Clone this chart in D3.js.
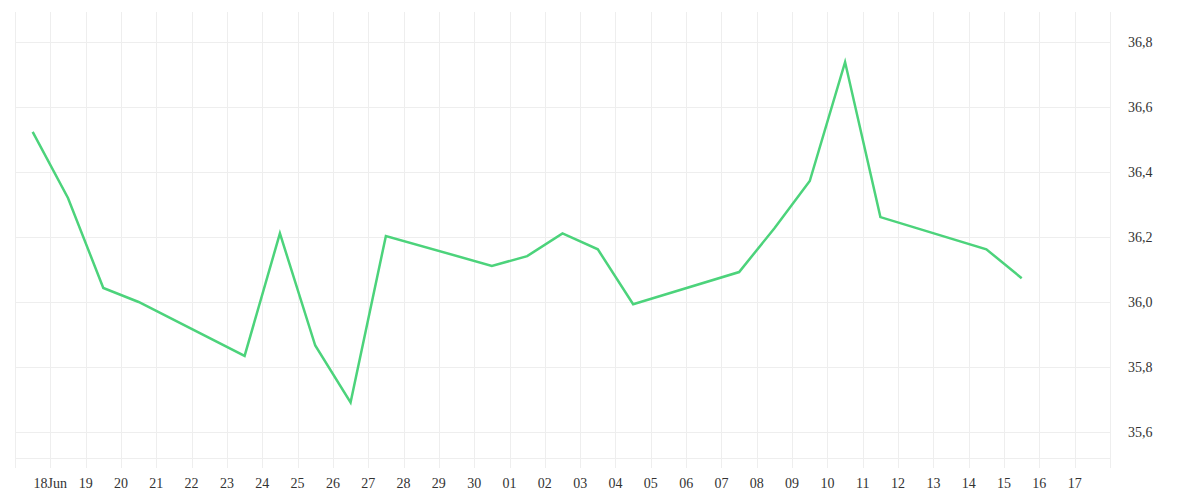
<!DOCTYPE html>
<html>
<head>
<meta charset="utf-8">
<script src="https://cdn.jsdelivr.net/npm/d3@7"></script>
<style>
  html, body { margin: 0; padding: 0; background: #ffffff; }
  svg { display: block; }
  text { font-family: "Liberation Serif", serif; font-size: 14px; fill: #333333; }
</style>
</head>
<body>
<svg id="chart" width="1200" height="500"></svg>
<script>
// ---- data ----
const dates = [
  "2018-06-17T12:00", "2018-06-18T12:00", "2018-06-19T12:00", "2018-06-20T12:00",
  "2018-06-23T12:00", "2018-06-24T12:00", "2018-06-25T12:00", "2018-06-26T12:00",
  "2018-06-27T12:00", "2018-06-30T12:00", "2018-07-01T12:00", "2018-07-02T12:00",
  "2018-07-03T12:00", "2018-07-04T12:00", "2018-07-07T12:00", "2018-07-08T12:00",
  "2018-07-09T12:00", "2018-07-10T12:00", "2018-07-11T12:00", "2018-07-14T12:00",
  "2018-07-15T12:00"
];
const values = [
  36.523, 36.32, 36.043, 36.0,
  35.834, 36.211, 35.866, 35.691,
  36.203, 36.111, 36.141, 36.211,
  36.162, 35.993, 36.092, 36.227,
  36.372, 36.738, 36.261, 36.162,
  36.073
];
const xTickLabels = ["18Jun","19","20","21","22","23","24","25","26","27","28","29","30",
  "01","02","03","04","05","06","07","08","09","10","11","12","13","14","15","16","17"];
const yTickValues = [35.6, 35.8, 36.0, 36.2, 36.4, 36.6, 36.8];
const yTickLabels = ["35,6","35,8","36,0","36,2","36,4","36,6","36,8"];

// ---- layout ----
const plotLeft = 15, plotRight = 1110, plotTop = 12, plotBottom = 458, tickBottom = 468;
const parse = d3.utcParse("%Y-%m-%dT%H:%M");
const points = dates.map((d, i) => ({ t: parse(d), v: values[i] }));

const x = d3.scaleUtc()
  .domain([Date.UTC(2018, 5, 17), Date.UTC(2018, 6, 18)])
  .range([plotLeft, plotRight]);
const y = d3.scaleLinear().domain([35.52, 36.892]).range([plotBottom, plotTop]);

const svg = d3.select("#chart");
const grid = svg.append("g");

// vertical grid lines (each day)
const days = d3.utcDay.range(Date.UTC(2018, 5, 17), Date.UTC(2018, 6, 19));
grid.selectAll("line.v").data(days).join("line")
  .attr("x1", d => Math.round(x(d)) + 0.5).attr("x2", d => Math.round(x(d)) + 0.5)
  .attr("y1", plotTop).attr("y2", tickBottom)
  .attr("stroke", "#eeeeee").attr("stroke-width", 1);

// horizontal grid lines
grid.selectAll("line.h").data(yTickValues.concat([35.52])).join("line")
  .attr("x1", plotLeft).attr("x2", plotRight)
  .attr("y1", d => Math.round(y(d)) + 0.5).attr("y2", d => Math.round(y(d)) + 0.5)
  .attr("stroke", "#eeeeee").attr("stroke-width", 1);

// x labels
const labelDays = d3.utcDay.range(Date.UTC(2018, 5, 18), Date.UTC(2018, 6, 18));
svg.append("g").selectAll("text").data(labelDays).join("text")
  .attr("x", d => x(d)).attr("y", 488)
  .attr("text-anchor", "middle")
  .text((d, i) => xTickLabels[i]);

// y labels
svg.append("g").selectAll("text").data(yTickValues).join("text")
  .attr("x", 1128).attr("y", d => y(d))
  .attr("dy", "0.35em")
  .text((d, i) => yTickLabels[i]);

// line
const line = d3.line().x(d => x(d.t)).y(d => y(d.v));
svg.append("path").datum(points)
  .attr("d", line)
  .attr("fill", "none")
  .attr("stroke", "#4cd37b")
  .attr("stroke-width", 2.5)
  .attr("stroke-linejoin", "miter");
</script>
</body>
</html>
